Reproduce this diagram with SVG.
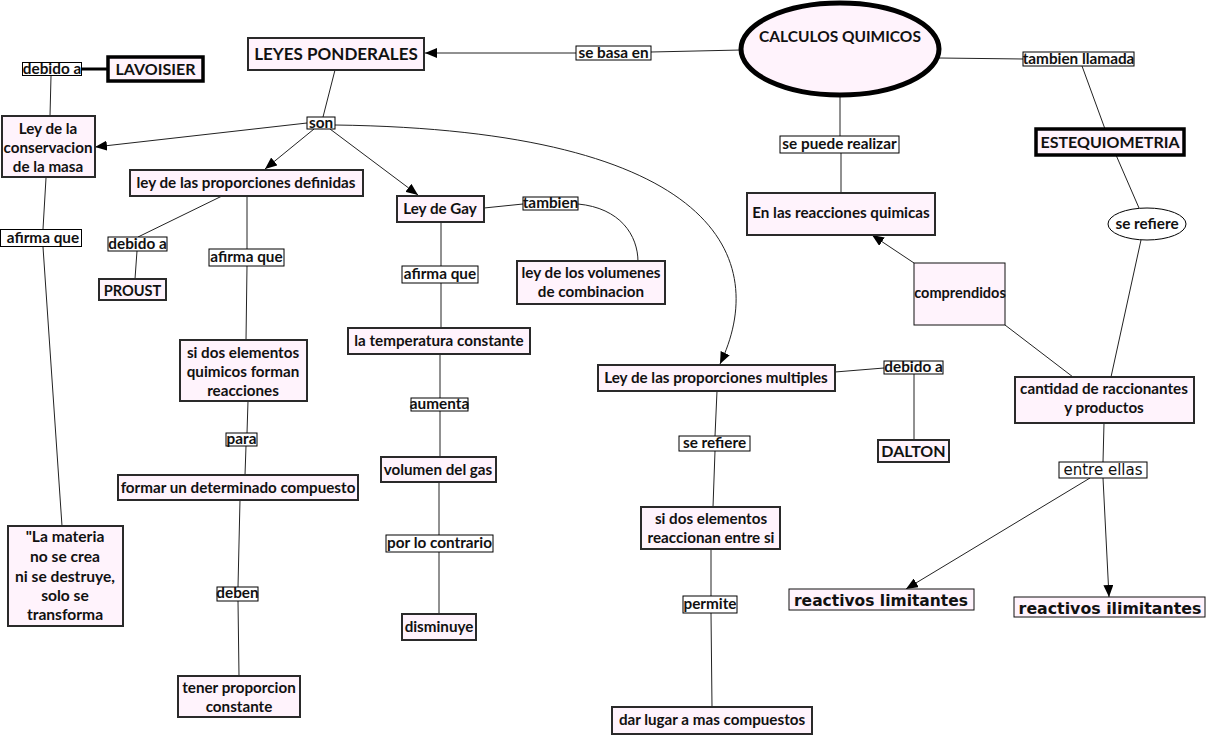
<svg xmlns="http://www.w3.org/2000/svg" width="1208" height="735" viewBox="0 0 1208 735">
<style>
text{font-family:Lato,"DejaVu Sans",sans-serif;font-weight:bold;font-size:15.2px;text-anchor:middle;fill:#111}
.n rect,.n ellipse{fill:#fff3fc;stroke:#2a2a2a;stroke-width:2}
.n.thick rect{stroke:#000;stroke-width:3.5}
.n.thin rect{stroke:#111;stroke-width:1}
.up{font-size:16px}
.lb rect,.lb ellipse{fill:#fff;stroke:#000;stroke-width:1}
.lb text{font-size:15.3px}
.c line,.c path{stroke:#222;stroke-width:1;fill:none}
.v{font-family:"DejaVu Sans",Verdana,sans-serif}
</style>
<defs>
<marker id="a" markerUnits="userSpaceOnUse" markerWidth="12" markerHeight="10" refX="12" refY="5" orient="auto">
<path d="M0,0 L12,5 L0,10 z" fill="#000"/>
</marker>
</defs>
<rect width="1208" height="735" fill="#fff"/>
<g class="c">
<line x1="82" y1="69" x2="108" y2="69" style="stroke-width:3;stroke:#000"/>
<line x1="51" y1="76" x2="50" y2="116"/>
<line x1="46" y1="178" x2="43" y2="229"/>
<line x1="43" y1="247" x2="62" y2="526"/>
<line x1="335" y1="70" x2="323" y2="117"/>
<line x1="307" y1="123" x2="95" y2="147" marker-end="url(#a)"/>
<line x1="314" y1="129" x2="265" y2="169" marker-end="url(#a)"/>
<line x1="330" y1="129" x2="418" y2="195" marker-end="url(#a)"/>
<path d="M335,125 C720,130 770,260 720,364" marker-end="url(#a)"/>
<line x1="222" y1="196" x2="138" y2="237"/>
<line x1="137" y1="251" x2="135" y2="279"/>
<line x1="247" y1="196" x2="247" y2="249"/>
<line x1="247" y1="266" x2="246" y2="340"/>
<line x1="248" y1="401" x2="247" y2="433"/>
<line x1="246" y1="446" x2="245" y2="475"/>
<line x1="240" y1="500" x2="238" y2="587"/>
<line x1="238" y1="601" x2="239" y2="676"/>
<line x1="484" y1="208" x2="523" y2="204"/>
<path d="M578,204 C620,208 638,235 638,262"/>
<line x1="441" y1="222" x2="441" y2="266"/>
<line x1="441" y1="283" x2="441" y2="328"/>
<line x1="440" y1="354" x2="440" y2="398"/>
<line x1="440" y1="411" x2="440" y2="457"/>
<line x1="439" y1="482" x2="439" y2="535"/>
<line x1="439" y1="552" x2="439" y2="614"/>
<line x1="741" y1="50" x2="651" y2="52"/>
<line x1="576" y1="53" x2="425" y2="53" marker-end="url(#a)"/>
<line x1="939" y1="58" x2="1023" y2="59"/>
<line x1="1082" y1="66" x2="1105" y2="129"/>
<line x1="1116" y1="155" x2="1139" y2="208"/>
<line x1="1141" y1="240" x2="1111" y2="377"/>
<line x1="840" y1="95" x2="840" y2="136"/>
<line x1="841" y1="153" x2="841" y2="193"/>
<line x1="914" y1="263" x2="872" y2="235" marker-end="url(#a)"/>
<line x1="1005" y1="325" x2="1073" y2="377"/>
<line x1="1104" y1="423" x2="1103" y2="462"/>
<line x1="1103" y1="478" x2="1109" y2="597" marker-end="url(#a)"/>
<line x1="1090" y1="478" x2="906" y2="589" marker-end="url(#a)"/>
<line x1="835" y1="372" x2="884" y2="368"/>
<line x1="914" y1="374" x2="914" y2="440"/>
<line x1="717" y1="391" x2="715" y2="436"/>
<line x1="715" y1="451" x2="713" y2="507"/>
<line x1="711" y1="549" x2="711" y2="596"/>
<line x1="711" y1="613" x2="712" y2="707"/>
</g>

<g id="calculos" class="n"><ellipse cx="840" cy="49" rx="99" ry="46" style="stroke:#000;stroke-width:5"/><text x="840" y="42" style="font-size:15.5px">CALCULOS QUIMICOS</text></g>
<g id="leyes" class="n"><rect x="248" y="38" width="176" height="32"/><text x="336" y="60" style="font-size:17px">LEYES PONDERALES</text></g>
<g id="lavoisier" class="n thick"><rect x="108" y="57" width="95" height="24"/><text x="155.5" y="74.5" class="up">LAVOISIER</text></g>
<g id="conservacion" class="n"><rect x="2" y="116" width="93" height="61"/><text x="48" y="134">Ley de la</text><text x="48" y="153">conservacion</text><text x="48" y="172">de la masa</text></g>
<g id="materia" class="n"><rect x="8" y="526" width="115" height="100"/><text x="65" y="542" style="font-size:15.6px">"La materia</text><text x="65" y="562" style="font-size:15.6px">no se crea</text><text x="65" y="582" style="font-size:15.6px">ni se destruye,</text><text x="65" y="601" style="font-size:15.6px">solo se</text><text x="65" y="620" style="font-size:15.6px">transforma</text></g>
<g id="definidas" class="n"><rect x="130" y="170" width="233" height="26"/><text x="246" y="188">ley de las proporciones definidas</text></g>
<g id="proust" class="n"><rect x="99" y="279" width="67" height="21"/><text x="132.5" y="295.5" style="font-size:14.6px">PROUST</text></g>
<g id="sidos1" class="n"><rect x="180" y="340" width="127" height="61"/><text x="243" y="358">si dos elementos</text><text x="243" y="377">quimicos forman</text><text x="243" y="396">reacciones</text></g>
<g id="formar" class="n"><rect x="118" y="475" width="240" height="25"/><text x="238" y="493">formar un determinado compuesto</text></g>
<g id="tener" class="n"><rect x="178" y="676" width="122" height="41"/><text x="239" y="693">tener proporcion</text><text x="239" y="712">constante</text></g>
<g id="gay" class="n"><rect x="397" y="196" width="87" height="26"/><text x="440" y="214">Ley de Gay</text></g>
<g id="volumenes" class="n"><rect x="517" y="261" width="148" height="43"/><text x="591" y="278">ley de los volumenes</text><text x="591" y="297">de combinacion</text></g>
<g id="temperatura" class="n"><rect x="348" y="328" width="182" height="26"/><text x="439" y="346">la temperatura constante</text></g>
<g id="volgas" class="n"><rect x="381" y="457" width="115" height="25"/><text x="438" y="475">volumen del gas</text></g>
<g id="disminuye" class="n"><rect x="402" y="614" width="74" height="26"/><text x="439" y="632">disminuye</text></g>
<g id="multiples" class="n"><rect x="598" y="365" width="237" height="26"/><text x="716" y="383">Ley de las proporciones multiples</text></g>
<g id="dalton" class="n"><rect x="878" y="440" width="71" height="22"/><text x="913.5" y="456.5" class="up">DALTON</text></g>
<g id="sidos2" class="n"><rect x="641" y="507" width="139" height="42"/><text x="711" y="524">si dos elementos</text><text x="711" y="543">reaccionan entre si</text></g>
<g id="darlugar" class="n"><rect x="612" y="707" width="200" height="27"/><text x="712" y="725">dar lugar a mas compuestos</text></g>
<g id="esteq" class="n thick"><rect x="1036" y="129" width="148" height="26"/><text x="1110" y="147.5" class="up">ESTEQUIOMETRIA</text></g>
<g id="reacciones" class="n"><rect x="747" y="193" width="188" height="42"/><text x="841" y="218">En las reacciones quimicas</text></g>
<g id="comprendidos" class="n thin"><rect x="914" y="263" width="91" height="62"/><text x="960" y="298" style="font-size:14.5px">comprendidos</text></g>
<g id="cantidad" class="n"><rect x="1015" y="377" width="179" height="46"/><text x="1104" y="394">cantidad de raccionantes</text><text x="1104" y="413">y productos</text></g>
<g id="limitantes" class="n thin"><rect x="789" y="589" width="185" height="21"/><text x="881" y="606" class="v" style="font-size:15.5px">reactivos limitantes</text></g>
<g id="ilimitantes" class="n thin"><rect x="1014" y="597" width="191" height="20"/><text x="1110" y="614" class="v" style="font-size:15.8px">reactivos ilimitantes</text></g>

<g id="l-debido1" class="lb"><rect x="22.5" y="62.5" width="59" height="13"/><text x="52" y="73.5">debido a</text></g>
<g id="l-afirma1" class="lb"><rect x="0.5" y="229.5" width="81" height="17"/><text x="43" y="242.5">afirma que</text></g>
<g id="l-son" class="lb"><rect x="307" y="117" width="28" height="12"/><text x="321" y="128">son</text></g>
<g id="l-debido2" class="lb"><rect x="108" y="237" width="59" height="14"/><text x="137.5" y="249">debido a</text></g>
<g id="l-afirma2" class="lb"><rect x="209" y="249" width="75" height="17"/><text x="246.5" y="262">afirma que</text></g>
<g id="l-para" class="lb"><rect x="226" y="433" width="31" height="13"/><text x="241.5" y="444">para</text></g>
<g id="l-deben" class="lb"><rect x="217" y="587" width="41" height="14"/><text x="237.5" y="598">deben</text></g>
<g id="l-tambien" class="lb"><rect x="523" y="197" width="55" height="13"/><text x="550.5" y="207.5">tambien</text></g>
<g id="l-afirma3" class="lb"><rect x="402" y="266" width="76" height="17"/><text x="440" y="279">afirma que</text></g>
<g id="l-aumenta" class="lb"><rect x="411" y="398" width="57" height="13"/><text x="439.5" y="409">aumenta</text></g>
<g id="l-contrario" class="lb"><rect x="386" y="535" width="107" height="17"/><text x="439.5" y="548">por lo contrario</text></g>
<g id="l-basa" class="lb"><rect x="576" y="46" width="75" height="14"/><text x="613.5" y="57.5">se basa en</text></g>
<g id="l-llamada" class="lb"><rect x="1023" y="52" width="111" height="14"/><text x="1078.5" y="63.5">tambien llamada</text></g>
<g id="l-refiere1" class="lb"><ellipse cx="1147" cy="224" rx="39" ry="16"/><text x="1147" y="229">se refiere</text></g>
<g id="l-realizar" class="lb"><rect x="780" y="136" width="119" height="17"/><text x="839.5" y="149">se puede realizar</text></g>
<g id="l-entre" class="lb"><rect x="1059" y="462" width="88" height="16"/><text x="1103" y="475" class="v" style="font-weight:normal;font-size:15px">entre ellas</text></g>
<g id="l-debido3" class="lb"><rect x="884" y="361" width="59" height="13"/><text x="913.5" y="372">debido a</text></g>
<g id="l-refiere2" class="lb"><rect x="679" y="436" width="71" height="15"/><text x="714.5" y="448">se refiere</text></g>
<g id="l-permite" class="lb"><rect x="683" y="596" width="54" height="17"/><text x="710" y="609">permite</text></g>
</svg>
